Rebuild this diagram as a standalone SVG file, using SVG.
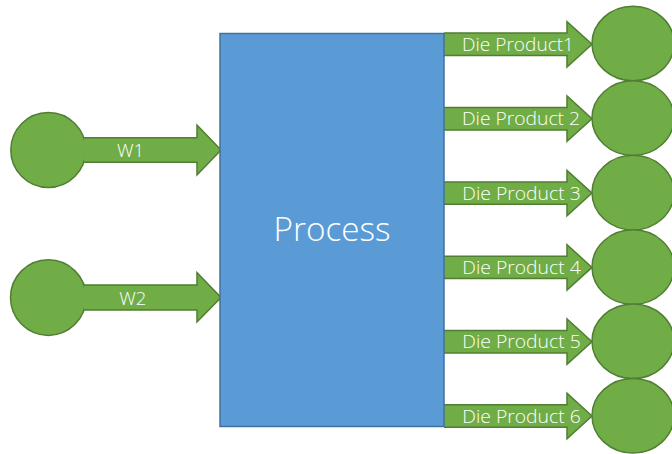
<svg xmlns="http://www.w3.org/2000/svg" width="672" height="454" viewBox="0 0 672 454">
  <style>
    .shape { fill: #70AD47; stroke: #507E32; stroke-width: 1.5; }
    .box { fill: #5B9BD5; stroke: #41719C; stroke-width: 1.5; }
    .lbl { font-family: "Open Sans", "Liberation Sans", sans-serif; font-weight: 300; fill: #FFFFFF; font-size: 18.5px; }
    .title { font-family: "Open Sans", "Liberation Sans", sans-serif; font-weight: 300; fill: #FFFFFF; font-size: 33px; }
  </style>
  <rect width="672" height="454" fill="#FFFFFF"/>

  <!-- input sources -->
  <g id="w1">
    <circle class="shape" cx="48.3" cy="150" r="37.5"/>
  </g>
  <g id="w2">
    <circle class="shape" cx="48.3" cy="297.6" r="37.8"/>
  </g>

  <!-- output sinks -->
  <g id="out1"><ellipse class="shape" cx="633" cy="43.5" rx="41" ry="37.3"/></g>
  <g id="out2"><ellipse class="shape" cx="633" cy="118.1" rx="41" ry="37.3"/></g>
  <g id="out3"><ellipse class="shape" cx="633" cy="192.6" rx="41" ry="37.3"/></g>
  <g id="out4"><ellipse class="shape" cx="633" cy="267.1" rx="41" ry="37.3"/></g>
  <g id="out5"><ellipse class="shape" cx="633" cy="341.2" rx="41" ry="37.3"/></g>
  <g id="out6"><ellipse class="shape" cx="633" cy="415.7" rx="41" ry="37.3"/></g>

  <!-- block-arrow connectors (left edge left open so they merge into the source) -->
  <g id="connectors">
    <path class="shape" d="M84,137.7 H197 V125 L221,150 L197,175 V162.3 H84"/>
    <text class="lbl" x="130.5" y="157.3" text-anchor="middle">W1</text>

    <path class="shape" d="M84,285 H197 V272.7 L221,297.5 L197,322 V310 H84"/>
    <text class="lbl" x="132.8" y="305" text-anchor="middle">W2</text>

    <path class="shape" d="M444,33.1 H567 V21.6 L592,44.3 L567,67 V55.5 H444"/>
    <text class="lbl" x="462" y="51.3" textLength="112" lengthAdjust="spacingAndGlyphs">Die Product1</text>

    <path class="shape" d="M444,107.5 H567 V96 L592,118.7 L567,141.4 V129.9 H444"/>
    <text class="lbl" x="462" y="125.4" textLength="118" lengthAdjust="spacingAndGlyphs">Die Product 2</text>

    <path class="shape" d="M444,181.9 H567 V170.4 L592,193.1 L567,215.8 V204.3 H444"/>
    <text class="lbl" x="462.3" y="199.5" textLength="118.4" lengthAdjust="spacingAndGlyphs">Die Product 3</text>

    <path class="shape" d="M444,256.2 H567 V244.7 L592,267.4 L567,290.1 V278.6 H444"/>
    <text class="lbl" x="462.3" y="274" textLength="118.4" lengthAdjust="spacingAndGlyphs">Die Product 4</text>

    <path class="shape" d="M444,330.5 H567 V319 L592,341.7 L567,364.4 V352.9 H444"/>
    <text class="lbl" x="462.3" y="348.3" textLength="118.4" lengthAdjust="spacingAndGlyphs">Die Product 5</text>

    <path class="shape" d="M444,404.8 H567 V393.3 L592,416 L567,438.7 V427.2 H444"/>
    <text class="lbl" x="462.3" y="422.6" textLength="118.4" lengthAdjust="spacingAndGlyphs">Die Product 6</text>
  </g>

  <!-- central process block -->
  <g id="process">
    <rect class="box" x="220" y="33.5" width="224" height="393"/>
    <text class="title" x="332" y="240.7" text-anchor="middle" textLength="117" lengthAdjust="spacingAndGlyphs">Process</text>
  </g>
</svg>
